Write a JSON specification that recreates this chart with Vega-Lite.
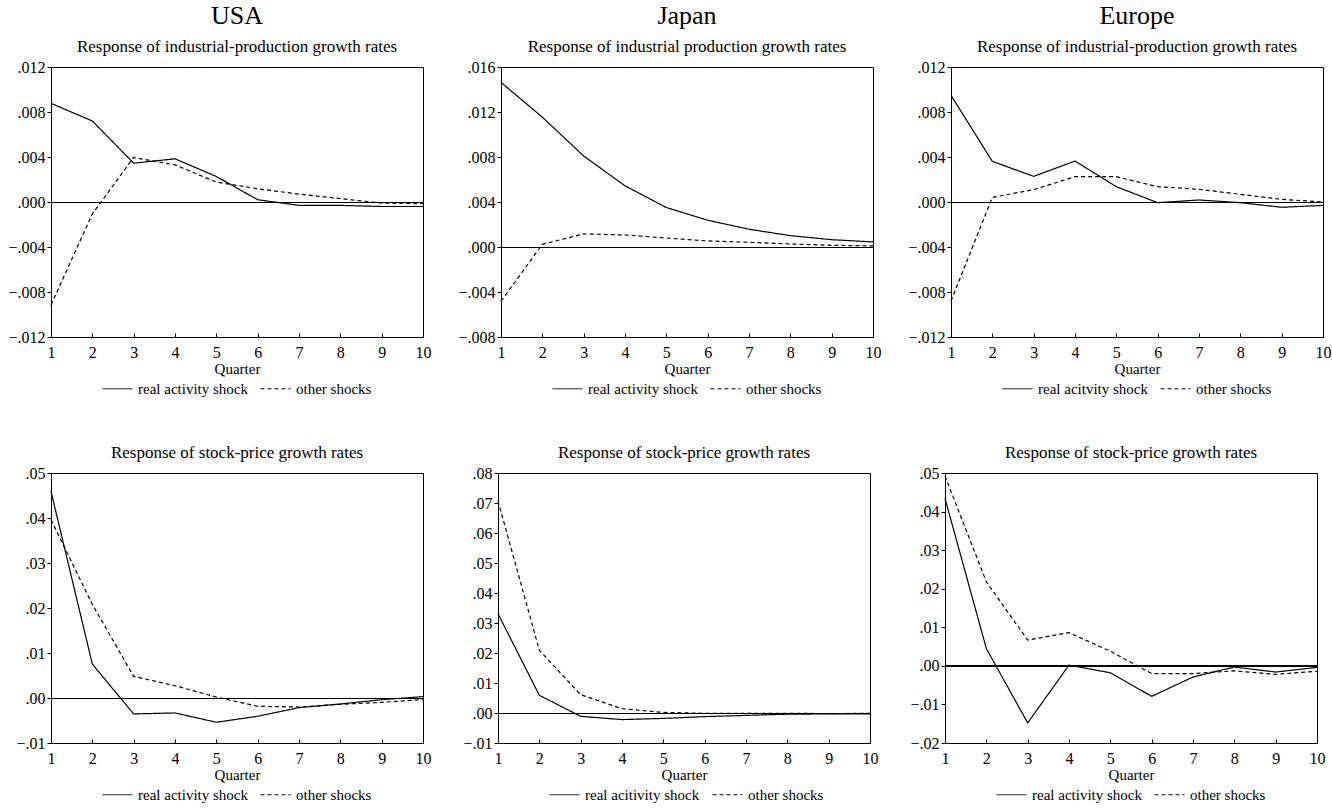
{
  "$schema": "https://vega.github.io/schema/vega-lite/v6.json",
  "padding": {"left": 7, "top": 2, "right": 2, "bottom": 2},
  "background": "white",
  "datasets": {
    "us_ip": [
      {"q": 1, "series": "real activity shock", "value": 0.00877},
      {"q": 2, "series": "real activity shock", "value": 0.0072},
      {"q": 3, "series": "real activity shock", "value": 0.00345},
      {"q": 4, "series": "real activity shock", "value": 0.00384},
      {"q": 5, "series": "real activity shock", "value": 0.00227},
      {"q": 6, "series": "real activity shock", "value": 0.0002},
      {"q": 7, "series": "real activity shock", "value": -0.0003},
      {"q": 8, "series": "real activity shock", "value": -0.0003},
      {"q": 9, "series": "real activity shock", "value": -0.0004},
      {"q": 10, "series": "real activity shock", "value": -0.0004},
      {"q": 1, "series": "other shocks", "value": -0.00915},
      {"q": 2, "series": "other shocks", "value": -0.00106},
      {"q": 3, "series": "other shocks", "value": 0.00396},
      {"q": 4, "series": "other shocks", "value": 0.0033},
      {"q": 5, "series": "other shocks", "value": 0.00177},
      {"q": 6, "series": "other shocks", "value": 0.00118},
      {"q": 7, "series": "other shocks", "value": 0.0007},
      {"q": 8, "series": "other shocks", "value": 0.0003},
      {"q": 9, "series": "other shocks", "value": -0.0001},
      {"q": 10, "series": "other shocks", "value": -0.00015}
    ],
    "jp_ip": [
      {"q": 1, "series": "real activity shock", "value": 0.01463},
      {"q": 2, "series": "real activity shock", "value": 0.01154},
      {"q": 3, "series": "real activity shock", "value": 0.00809},
      {"q": 4, "series": "real activity shock", "value": 0.00544},
      {"q": 5, "series": "real activity shock", "value": 0.00351},
      {"q": 6, "series": "real activity shock", "value": 0.00238},
      {"q": 7, "series": "real activity shock", "value": 0.00158},
      {"q": 8, "series": "real activity shock", "value": 0.00101},
      {"q": 9, "series": "real activity shock", "value": 0.00065},
      {"q": 10, "series": "real activity shock", "value": 0.00045},
      {"q": 1, "series": "other shocks", "value": -0.00482},
      {"q": 2, "series": "other shocks", "value": 0.00024},
      {"q": 3, "series": "other shocks", "value": 0.00116},
      {"q": 4, "series": "other shocks", "value": 0.00107},
      {"q": 5, "series": "other shocks", "value": 0.0008},
      {"q": 6, "series": "other shocks", "value": 0.00054},
      {"q": 7, "series": "other shocks", "value": 0.00042},
      {"q": 8, "series": "other shocks", "value": 0.00027},
      {"q": 9, "series": "other shocks", "value": 0.00015},
      {"q": 10, "series": "other shocks", "value": 0.0001}
    ],
    "eu_ip": [
      {"q": 1, "series": "real acitvity shock", "value": 0.00948},
      {"q": 2, "series": "real acitvity shock", "value": 0.00361},
      {"q": 3, "series": "real acitvity shock", "value": 0.00228},
      {"q": 4, "series": "real acitvity shock", "value": 0.00364},
      {"q": 5, "series": "real acitvity shock", "value": 0.00136},
      {"q": 6, "series": "real acitvity shock", "value": -0.00006},
      {"q": 7, "series": "real acitvity shock", "value": 0.00018},
      {"q": 8, "series": "real acitvity shock", "value": -0.00006},
      {"q": 9, "series": "real acitvity shock", "value": -0.00047},
      {"q": 10, "series": "real acitvity shock", "value": -0.0003},
      {"q": 1, "series": "other shocks", "value": -0.0088},
      {"q": 2, "series": "other shocks", "value": 0.00041},
      {"q": 3, "series": "other shocks", "value": 0.0011},
      {"q": 4, "series": "other shocks", "value": 0.00225},
      {"q": 5, "series": "other shocks", "value": 0.00225},
      {"q": 6, "series": "other shocks", "value": 0.00136},
      {"q": 7, "series": "other shocks", "value": 0.00113},
      {"q": 8, "series": "other shocks", "value": 0.00068},
      {"q": 9, "series": "other shocks", "value": 0.00024},
      {"q": 10, "series": "other shocks", "value": 0.0}
    ],
    "us_sp": [
      {"q": 1, "series": "real activity shock", "value": 0.0459},
      {"q": 2, "series": "real activity shock", "value": 0.00753},
      {"q": 3, "series": "real activity shock", "value": -0.00354},
      {"q": 4, "series": "real activity shock", "value": -0.00332},
      {"q": 5, "series": "real activity shock", "value": -0.00539},
      {"q": 6, "series": "real activity shock", "value": -0.00406},
      {"q": 7, "series": "real activity shock", "value": -0.00214},
      {"q": 8, "series": "real activity shock", "value": -0.00133},
      {"q": 9, "series": "real activity shock", "value": -0.00037},
      {"q": 10, "series": "real activity shock", "value": 0.0003},
      {"q": 1, "series": "other shocks", "value": 0.0396},
      {"q": 2, "series": "other shocks", "value": 0.0208},
      {"q": 3, "series": "other shocks", "value": 0.0048},
      {"q": 4, "series": "other shocks", "value": 0.00273},
      {"q": 5, "series": "other shocks", "value": 0.00022},
      {"q": 6, "series": "other shocks", "value": -0.00185},
      {"q": 7, "series": "other shocks", "value": -0.002},
      {"q": 8, "series": "other shocks", "value": -0.0014},
      {"q": 9, "series": "other shocks", "value": -0.00096},
      {"q": 10, "series": "other shocks", "value": -0.00037}
    ],
    "jp_sp": [
      {"q": 1, "series": "real acitivity shock", "value": 0.0331},
      {"q": 2, "series": "real acitivity shock", "value": 0.0059},
      {"q": 3, "series": "real acitivity shock", "value": -0.0011},
      {"q": 4, "series": "real acitivity shock", "value": -0.0022},
      {"q": 5, "series": "real acitivity shock", "value": -0.0018},
      {"q": 6, "series": "real acitivity shock", "value": -0.0012},
      {"q": 7, "series": "real acitivity shock", "value": -0.0008},
      {"q": 8, "series": "real acitivity shock", "value": -0.0004},
      {"q": 9, "series": "real acitivity shock", "value": -0.0003},
      {"q": 10, "series": "real acitivity shock", "value": -0.0003},
      {"q": 1, "series": "other shocks", "value": 0.0707},
      {"q": 2, "series": "other shocks", "value": 0.0209},
      {"q": 3, "series": "other shocks", "value": 0.0061},
      {"q": 4, "series": "other shocks", "value": 0.00145},
      {"q": 5, "series": "other shocks", "value": 0.0002},
      {"q": 6, "series": "other shocks", "value": -0.0001},
      {"q": 7, "series": "other shocks", "value": -0.0001},
      {"q": 8, "series": "other shocks", "value": -0.0001},
      {"q": 9, "series": "other shocks", "value": -0.0002},
      {"q": 10, "series": "other shocks", "value": -0.0001}
    ],
    "eu_sp": [
      {"q": 1, "series": "real activity shock", "value": 0.0434},
      {"q": 2, "series": "real activity shock", "value": 0.0045},
      {"q": 3, "series": "real activity shock", "value": -0.0148},
      {"q": 4, "series": "real activity shock", "value": 0.0002},
      {"q": 5, "series": "real activity shock", "value": -0.0018},
      {"q": 6, "series": "real activity shock", "value": -0.0079},
      {"q": 7, "series": "real activity shock", "value": -0.0029},
      {"q": 8, "series": "real activity shock", "value": -0.0003},
      {"q": 9, "series": "real activity shock", "value": -0.0016},
      {"q": 10, "series": "real activity shock", "value": -0.0004},
      {"q": 1, "series": "other shocks", "value": 0.0492},
      {"q": 2, "series": "other shocks", "value": 0.0218},
      {"q": 3, "series": "other shocks", "value": 0.0067},
      {"q": 4, "series": "other shocks", "value": 0.0086},
      {"q": 5, "series": "other shocks", "value": 0.0038},
      {"q": 6, "series": "other shocks", "value": -0.002},
      {"q": 7, "series": "other shocks", "value": -0.002},
      {"q": 8, "series": "other shocks", "value": -0.0013},
      {"q": 9, "series": "other shocks", "value": -0.0022},
      {"q": 10, "series": "other shocks", "value": -0.0014}
    ]
  },
  "spacing": 45,
  "resolve": {"scale": {"strokeDash": "independent"}, "legend": {"strokeDash": "independent"}},
  "vconcat": [
    {
      "spacing": 25,
      "resolve": {"scale": {"strokeDash": "independent"}, "legend": {"strokeDash": "independent"}},
      "hconcat": [
        {
          "width": 372, "height": 270,
          "title": {"text": "USA", "subtitle": "Response of industrial-production growth rates", "offset": 4},
          "data": {"name": "us_ip"},
          "layer": [
            {
              "mark": {"type": "line", "color": "black", "strokeWidth": 1.2},
              "encoding": {
                "x": {"field": "q", "type": "quantitative", "title": "Quarter", "scale": {"domain": [1, 10], "nice": false}, "axis": {"values": [1,2,3,4,5,6,7,8,9,10], "format": "d", "labelOverlap": false}},
                "y": {"field": "value", "type": "quantitative", "title": null, "scale": {"domain": [-0.012, 0.012], "nice": false, "zero": false}, "axis": {"values": [-0.012,-0.008,-0.004,0,0.004,0.008,0.012], "tickCount": 20, "labelOverlap": false, "labelExpr": "replace(format(datum.value, '.3f'), '0.', '.')"}},
                "strokeDash": {"field": "series", "type": "nominal", "scale": {"domain": ["real activity shock", "other shocks"], "range": [[1, 0], [4, 3]]}, "legend": {"title": null}}
              }
            },
            {"mark": {"type": "rule", "color": "black", "strokeWidth": 1, "yOffset": 0.5}, "encoding": {"y": {"datum": 0, "type": "quantitative"}}}
          ]
        },
        {
          "width": 372, "height": 270,
          "title": {"text": "Japan", "subtitle": "Response of industrial production growth rates", "offset": 4},
          "data": {"name": "jp_ip"},
          "layer": [
            {
              "mark": {"type": "line", "color": "black", "strokeWidth": 1.2},
              "encoding": {
                "x": {"field": "q", "type": "quantitative", "title": "Quarter", "scale": {"domain": [1, 10], "nice": false}, "axis": {"values": [1,2,3,4,5,6,7,8,9,10], "format": "d", "labelOverlap": false}},
                "y": {"field": "value", "type": "quantitative", "title": null, "scale": {"domain": [-0.008, 0.016], "nice": false, "zero": false}, "axis": {"values": [-0.008,-0.004,0,0.004,0.008,0.012,0.016], "tickCount": 20, "labelOverlap": false, "labelExpr": "replace(format(datum.value, '.3f'), '0.', '.')"}},
                "strokeDash": {"field": "series", "type": "nominal", "scale": {"domain": ["real activity shock", "other shocks"], "range": [[1, 0], [4, 3]]}, "legend": {"title": null}}
              }
            },
            {"mark": {"type": "rule", "color": "black", "strokeWidth": 1, "yOffset": 0.5}, "encoding": {"y": {"datum": 0, "type": "quantitative"}}}
          ]
        },
        {
          "width": 372, "height": 270,
          "title": {"text": "Europe", "subtitle": "Response of industrial-production growth rates", "offset": 4},
          "data": {"name": "eu_ip"},
          "layer": [
            {
              "mark": {"type": "line", "color": "black", "strokeWidth": 1.2},
              "encoding": {
                "x": {"field": "q", "type": "quantitative", "title": "Quarter", "scale": {"domain": [1, 10], "nice": false}, "axis": {"values": [1,2,3,4,5,6,7,8,9,10], "format": "d", "labelOverlap": false}},
                "y": {"field": "value", "type": "quantitative", "title": null, "scale": {"domain": [-0.012, 0.012], "nice": false, "zero": false}, "axis": {"values": [-0.012,-0.008,-0.004,0,0.004,0.008,0.012], "tickCount": 20, "labelOverlap": false, "labelExpr": "replace(format(datum.value, '.3f'), '0.', '.')"}},
                "strokeDash": {"field": "series", "type": "nominal", "scale": {"domain": ["real acitvity shock", "other shocks"], "range": [[1, 0], [4, 3]]}, "legend": {"title": null}}
              }
            },
            {"mark": {"type": "rule", "color": "black", "strokeWidth": 1, "yOffset": 0.5}, "encoding": {"y": {"datum": 0, "type": "quantitative"}}}
          ]
        }
      ]
    },
    {
      "spacing": 25,
      "resolve": {"scale": {"strokeDash": "independent"}, "legend": {"strokeDash": "independent"}},
      "hconcat": [
        {
          "width": 372, "height": 270,
          "title": {"text": "Response of stock-price growth rates", "fontSize": 17, "offset": 3},
          "data": {"name": "us_sp"},
          "layer": [
            {
              "mark": {"type": "line", "color": "black", "strokeWidth": 1.2},
              "encoding": {
                "x": {"field": "q", "type": "quantitative", "title": "Quarter", "scale": {"domain": [1, 10], "nice": false}, "axis": {"values": [1,2,3,4,5,6,7,8,9,10], "format": "d", "labelOverlap": false}},
                "y": {"field": "value", "type": "quantitative", "title": null, "scale": {"domain": [-0.01, 0.05], "nice": false, "zero": false}, "axis": {"values": [-0.01,0,0.01,0.02,0.03,0.04,0.05], "tickCount": 20, "labelOverlap": false, "labelExpr": "replace(format(datum.value, '.2f'), '0.', '.')"}},
                "strokeDash": {"field": "series", "type": "nominal", "scale": {"domain": ["real activity shock", "other shocks"], "range": [[1, 0], [4, 3]]}, "legend": {"title": null}}
              }
            },
            {"mark": {"type": "rule", "color": "black", "strokeWidth": 1, "yOffset": 0.5}, "encoding": {"y": {"datum": 0, "type": "quantitative"}}}
          ]
        },
        {
          "width": 372, "height": 270,
          "title": {"text": "Response of stock-price growth rates", "fontSize": 17, "offset": 3},
          "data": {"name": "jp_sp"},
          "layer": [
            {
              "mark": {"type": "line", "color": "black", "strokeWidth": 1.2},
              "encoding": {
                "x": {"field": "q", "type": "quantitative", "title": "Quarter", "scale": {"domain": [1, 10], "nice": false}, "axis": {"values": [1,2,3,4,5,6,7,8,9,10], "format": "d", "labelOverlap": false}},
                "y": {"field": "value", "type": "quantitative", "title": null, "scale": {"domain": [-0.01, 0.08], "nice": false, "zero": false}, "axis": {"values": [-0.01,0,0.01,0.02,0.03,0.04,0.05,0.06,0.07,0.08], "tickCount": 20, "labelOverlap": false, "labelExpr": "replace(format(datum.value, '.2f'), '0.', '.')"}},
                "strokeDash": {"field": "series", "type": "nominal", "scale": {"domain": ["real acitivity shock", "other shocks"], "range": [[1, 0], [4, 3]]}, "legend": {"title": null}}
              }
            },
            {"mark": {"type": "rule", "color": "black", "strokeWidth": 1, "yOffset": 0.5}, "encoding": {"y": {"datum": 0, "type": "quantitative"}}}
          ]
        },
        {
          "width": 372, "height": 270,
          "title": {"text": "Response of stock-price growth rates", "fontSize": 17, "offset": 3},
          "data": {"name": "eu_sp"},
          "layer": [
            {
              "mark": {"type": "line", "color": "black", "strokeWidth": 1.2},
              "encoding": {
                "x": {"field": "q", "type": "quantitative", "title": "Quarter", "scale": {"domain": [1, 10], "nice": false}, "axis": {"values": [1,2,3,4,5,6,7,8,9,10], "format": "d", "labelOverlap": false}},
                "y": {"field": "value", "type": "quantitative", "title": null, "scale": {"domain": [-0.02, 0.05], "nice": false, "zero": false}, "axis": {"values": [-0.02,-0.01,0,0.01,0.02,0.03,0.04,0.05], "tickCount": 20, "labelOverlap": false, "labelExpr": "replace(format(datum.value, '.2f'), '0.', '.')"}},
                "strokeDash": {"field": "series", "type": "nominal", "scale": {"domain": ["real activity shock", "other shocks"], "range": [[1, 0], [4, 3]]}, "legend": {"title": null}}
              }
            },
            {"mark": {"type": "rule", "color": "black", "strokeWidth": 1}, "encoding": {"y": {"datum": 0, "type": "quantitative"}}}
          ]
        }
      ]
    }
  ],
  "config": {
    "font": "Liberation Serif",
    "view": {"stroke": "black", "strokeWidth": 1},
    "title": {"font": "Liberation Serif", "fontSize": 26, "fontWeight": "normal", "color": "black", "anchor": "middle", "subtitleFont": "Liberation Serif", "subtitleFontSize": 17, "subtitleColor": "black", "subtitlePadding": 10},
    "axis": {"grid": false, "domainColor": "black", "tickColor": "black", "labelColor": "black", "labelFont": "Liberation Serif", "labelFontSize": 16, "labelOverlap": false, "titleFont": "Liberation Serif", "titleFontSize": 15, "titleFontWeight": "normal", "titleColor": "black"},
    "axisY": {"tickSize": 4, "labelPadding": 2, "minExtent": 40, "maxExtent": 40},
    "axisX": {"tickSize": -4, "labelPadding": 11, "titlePadding": 1, "labelFlush": false},
    "legend": {"orient": "none", "legendX": 51, "legendY": 306, "direction": "horizontal", "symbolType": "stroke", "symbolSize": 900, "symbolStrokeWidth": 1, "symbolStrokeColor": "black", "labelFont": "Liberation Serif", "labelFontSize": 15, "labelColor": "black", "labelOffset": 5, "columnPadding": 10}
  }
}
